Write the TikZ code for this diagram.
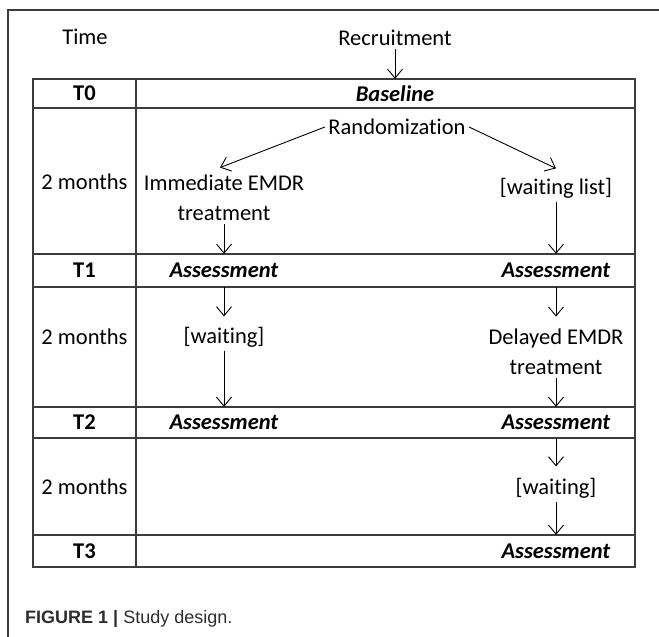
\documentclass[tikz,border=0pt]{standalone}
\usepackage{fontspec}
\setmainfont[Ligatures=NoCommon]{Carlito}
\newfontfamily\capfont{Liberation Sans}
\usetikzlibrary{arrows.meta}
\definecolor{rule}{RGB}{60,60,60}
\definecolor{captxt}{RGB}{45,45,45}

\begin{document}
\begin{tikzpicture}[x=1pt,y=-1pt,
	every node/.style={font=\fontsize{22.5}{30}\selectfont},
	cell/.style={minimum height=#1, inner ysep=0pt},
	tab/.style={draw=rule, line width=1.3pt},
	>={Straight Barb[length=9pt,width=15pt]},
	arr/.style={->, line width=0.9pt}]
		\useasboundingbox (0,0) rectangle (659,637);
		\draw [rule, line width=1.2pt] (8,637) -- (8,10) -- (659,10);
		% table
		\draw [tab] (33,79) rectangle (635,567);
		\draw [tab] (136,79) -- (136,567);
		\foreach \y in {108,254,287,407,438,535}
		\draw [tab] (33,\y) -- (635,\y);
		% time column
		\node (time) at (85,37) {Time};
		\node [cell=29] (t0) at (84.5,93.5) {\textbf{T0}};
		\node (m1) at (84.5,182) {2 months};
		\node [cell=33] (t1) at (84.5,270.5) {\textbf{T1}};
		\node (m2) at (84.5,337) {2 months};
		\node [cell=31] (t2) at (84.5,422.5) {\textbf{T2}};
		\node (m3) at (84.5,487) {2 months};
		\node [cell=32] (t3) at (84.5,551) {\textbf{T3}};
		% flow
		\node (recr) at (395,38) {Recruitment};
		\node [cell=29] (base) at (395,93.5) {\textbf{\textit{Baseline}}};
		\node (rand) at (397,127) {Randomization};
		\node [align=center] (imm) at (224,198) {Immediate EMDR\\treatment};
		\node (wlist) at (556,188) {[waiting list]};
		\node [cell=33] (a1l) at (224,270.5) {\textbf{\textit{Assessment}}};
		\node [cell=33] (a1r) at (556,270.5) {\textbf{\textit{Assessment}}};
		\node (wl) at (224,337) {[waiting]};
		\node [align=center] (del) at (556,352) {Delayed EMDR\\treatment};
		\node [cell=31] (a2l) at (224,422.5) {\textbf{\textit{Assessment}}};
		\node [cell=31] (a2r) at (556,422.5) {\textbf{\textit{Assessment}}};
		\node (wr) at (556,488) {[waiting]};
		\node [cell=32] (a3r) at (556,551) {\textbf{\textit{Assessment}}};
		\draw [arr] (recr) -- (base);
		\draw [arr] (rand.west) -- ([xshift=-4pt,yshift=4pt]imm.north);
		\draw [arr] (rand.east) -- ([yshift=6pt]wlist.north);
		\draw [arr] (imm) -- (a1l);
		\draw [arr] (wlist) -- (a1r);
		\draw [arr, shorten >=7pt] (a1l) -- (wl);
		\draw [arr] (wl) -- (a2l);
		\draw [arr, shorten >=9pt] (a1r) -- (del);
		\draw [arr] (del) -- (a2r);
		\draw [arr, shorten >=8pt] (a2r) -- (wr);
		\draw [arr] (wr) -- (a3r);
		% caption
		\node [anchor=base west, inner sep=0pt, text=captxt, font=\capfont\fontsize{18}{21}\selectfont] (cap) at (25,623) {\textbf{FIGURE 1 |} Study design.};
\end{tikzpicture}
\end{document}
